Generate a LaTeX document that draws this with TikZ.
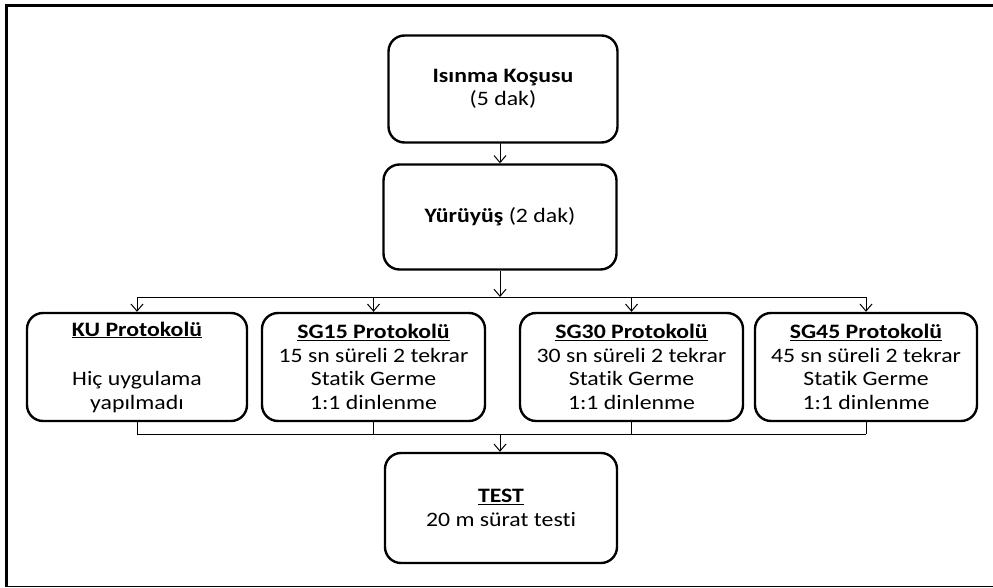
\documentclass[tikz,border=0pt]{standalone}
\usepackage{fontspec}
\setmainfont{Carlito}[FakeStretch=1.16, Ligatures=NoCommon]
\usetikzlibrary{arrows.meta,positioning,calc}

\tikzset{
  stage/.style={draw, line width=2.4pt, rounded corners=16pt, align=center,
    inner sep=0pt, minimum width=#1, minimum height=107pt,
    font=\fontsize{20.5}{23.5}\selectfont},
  stage/.default=230pt,
  flow/.style={-{Straight Barb[length=7pt,width=12pt]}, line width=1pt},
  bus/.style={line width=1pt}
}

\begin{document}
\begin{tikzpicture}[x=1pt,y=-1pt]
\useasboundingbox (0,0) rectangle (993,588);

% frame (cut off on the right)
\draw[line width=3pt] (993,5.5) -- (6.5,5.5) -- (6.5,587);
\draw[line width=1.2pt] (6.5,586.5) -- (993,586.5);

% warm-up and walk
\node[stage=229pt] (warm) at (503,89) {\textbf{Isınma Koşusu}\\(5 dak)};
\node[stage=233pt, minimum height=105pt] (walk) at (500,217) {\textbf{Yürüyüş} (2 dak)};

% protocols
\node[stage=220pt, minimum height=108pt] (ku) at (137,367)
  {\textbf{\underline{KU Protokolü}}\\[26pt]Hiç uygulama\\yapılmadı};
\node[stage=223pt, minimum height=108pt] (sg15) at (373.5,367)
  {\textbf{\underline{SG15 Protokolü}}\\15 sn süreli 2 tekrar\\Statik Germe\\1:1 dinlenme};
\node[stage=223pt, minimum height=108pt] (sg30) at (631.5,367)
  {\textbf{\underline{SG30 Protokolü}}\\30 sn süreli 2 tekrar\\Statik Germe\\1:1 dinlenme};
\node[stage=222pt, minimum height=108pt] (sg45) at (866,367)
  {\textbf{\underline{SG45 Protokolü}}\\45 sn süreli 2 tekrar\\Statik Germe\\1:1 dinlenme};

% test
\node[stage=232pt, minimum height=110pt] (test) at (501,508)
  {\textbf{\underline{TEST}}\\20 m sürat testi};

% bus lines
\coordinate (topbus) at (500,297);
\coordinate (botbus) at (500,434);

\draw[flow] (warm) -- (warm.south -| walk.north) -- (walk);
\draw[flow] (walk) -- (topbus);
\draw[bus] (ku.north |- topbus) -- (sg45.north |- topbus);
\foreach \p in {ku, sg15, sg30, sg45} {
    \draw[flow] (\p.north |- topbus) -- (\p.north);
    \draw[bus] (\p.south) -- (\p.south |- botbus);
}
\draw[bus] (ku.south |- botbus) -- (sg45.south |- botbus);
\draw[flow] (botbus) -- (botbus |- test.north);

\end{tikzpicture}
\end{document}
